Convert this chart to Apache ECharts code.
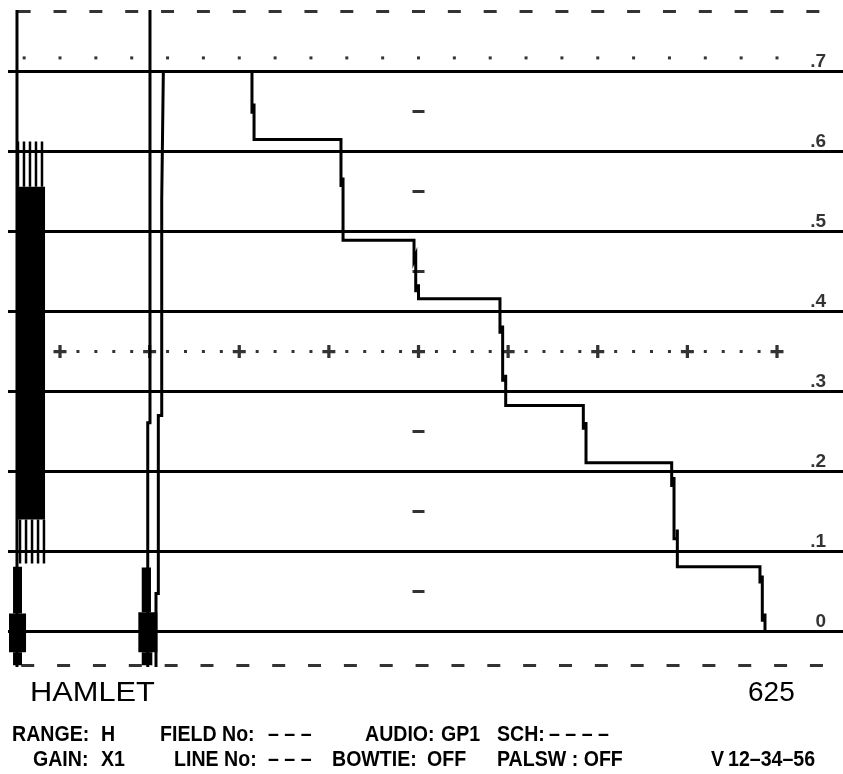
<!DOCTYPE html>
<html><head><meta charset="utf-8">
<script src="https://cdn.jsdelivr.net/npm/echarts@6/dist/echarts.min.js"></script>
<style>html,body{margin:0;padding:0;background:#fff}#c{width:843px;height:774px}</style>
</head><body><div id="c"></div>
<script>
// x: tenths of a graticule division (the "+" marks sit at 0,10,...,80); y: volts
const levels      = [0, 0.1, 0.2, 0.3, 0.4, 0.5, 0.6, 0.7];
const levelLabels = ['0', '.1', '.2', '.3', '.4', '.5', '.6', '.7'];
const crossX   = [0, 10, 20, 30, 40, 50, 60, 70, 80];
const fineDotX = [2,4,6,8, 12,14,16,18, 22,24,26,28, 32,34,36,38, 42,44,46,48, 52,54,56,58, 62,64,66,68, 72,74,76,78];
const topDotX  = [-4,0,4,8,12,16,20,24,28,32,36,40,44,48,52,56,60,64,68,72,76,80];
const topDashX = [-4,0,4,8,12,16,20,24,28,32,36,40,44,48,52,56,60,64,68,72,76,80,84];
const botDashX = [-3.6,0.4,4.4,8.4,12.4,16.4,20.4,24.4,28.4,32.4,36.4,40.4,44.4,48.4,52.4,56.4,60.4,64.4,68.4,72.4,76.4,80.4,84.4];
const minorTickY = [0.05, 0.15, 0.25, 0.45, 0.55, 0.65];
const centreX = 40;
const dottedY = 0.35;
const topDotY = 0.717;

// colour-bar staircase (white .. black) including the rise out of sync
const mainTrace = [
  [10.71,-0.3],[10.71,0.0475],[10.97,0.0475],[10.97,0.27],[11.35,0.27],[11.35,0.54],[11.53,0.54],[11.53,0.70],
  [21.42,0.70],[21.42,0.649],[21.65,0.649],[21.65,0.66],[21.65,0.615],
  [31.35,0.615],[31.35,0.5575],[31.58,0.5575],[31.58,0.5675],[31.58,0.489],
  [39.50,0.489],[39.50,0.464],[39.69,0.464],[39.69,0.47],[39.69,0.426],[40.0,0.426],[40.0,0.434],[40.0,0.416],
  [49.09,0.416],[49.09,0.374],[49.39,0.374],[49.39,0.3825],[49.39,0.314],[49.73,0.314],[49.73,0.321],[49.73,0.2825],
  [58.39,0.2825],[58.39,0.254],[58.69,0.254],[58.69,0.262],[58.69,0.211],
  [68.25,0.211],[68.25,0.1825],[68.51,0.1825],[68.51,0.193],[68.51,0.116],[68.88,0.116],[68.88,0.1275],[68.88,0.081],
  [78.10,0.081],[78.10,0.062],[78.36,0.062],[78.36,0.07],[78.36,0.014],[78.66,0.014],[78.66,0.0225],[78.66,0],
  [87.4,0]
];
const syncEdge2 = [[10.04,0.9],[10.04,0.261],[9.79,0.261],[9.79,-0.3]];
const syncEdge1 = [[-4.80,0.9],[-4.80,-0.3]];
// filled blocks: [x0, x1, yTop, yBottom]
const blocks = [
  [-4.83,-1.67,0.556,0.14],
  [-5.24,-4.24,0.081,0.0225],[-5.69,-3.79,0.0225,-0.026],[-5.24,-4.24,-0.026,-0.3],
  [9.12,10.15,0.08,0.024],[8.74,10.86,0.024,-0.026],[9.12,10.30,-0.026,-0.3]
];
// burst cycles: [x, yTop, yBottom]
const burstLines = [
  [-4.69,0.6125,0.556],[-4.02,0.6125,0.556],[-3.35,0.6125,0.556],[-2.68,0.6125,0.556],[-2.01,0.6125,0.556],
  [-4.46,0.14,0.085],[-3.79,0.14,0.085],[-3.12,0.14,0.085],[-2.45,0.14,0.085],[-1.79,0.14,0.085]
];
const X_MIN = -6.695, X_MAX = 87.364, Y_MIN = -0.0425, Y_MAX = 0.775;
const GRAT_START = -5.80, LABEL_X = 85.47;

const chart = echarts.init(document.getElementById('c'), null, {renderer: 'canvas'});
const K = '#000';
const traceW = 3, gratW = 3;

const lineSeries = (data, z) => ({
  type: 'line', data, showSymbol: false, symbol: 'none', animation: false, z: z || 5,
  lineStyle: {color: K, width: traceW, cap: 'butt', join: 'miter'}, clip: true, silent: true
});

const plusPath = 'path://M4.5,0h3v4.5h4.5v3h-4.5v4.5h-3v-4.5h-4.5v-3h4.5z';
const sans = '"Liberation Sans",Arial,sans-serif';

const option = {
  animation: false,
  backgroundColor: '#fff',
  grid: {left: 0, right: 0, top: 11.5, height: 654},
  xAxis: {type: 'value', min: X_MIN, max: X_MAX, show: false},
  yAxis: {type: 'value', min: Y_MIN, max: Y_MAX, show: false},
  series: [
    {
      type: 'line', data: [], silent: true, animation: false,
      markLine: {
        silent: true, animation: false, symbol: 'none',
        lineStyle: {color: K, width: gratW, type: 'solid'},
        label: {show: false},
        data: levels.map(v => [{coord: [GRAT_START, v]}, {coord: [X_MAX, v]}])
      }
    },
    {
      type: 'scatter', symbolSize: 0, silent: true, animation: false,
      data: levels.map((v, i) => ({value: [LABEL_X, v], name: levelLabels[i]})),
      label: {show: true, position: 'top', align: 'right', distance: 0, formatter: '{b}',
        color: K, fontSize: 19, fontWeight: 'bold', fontFamily: sans}
    },
    {type: 'scatter', symbol: 'rect', symbolSize: [13, 3], itemStyle: {color: K}, silent: true, animation: false, clip: false,
      data: topDashX.map(x => [x, Y_MAX]).concat(botDashX.map(x => [x, Y_MIN]))},
    {type: 'scatter', symbol: 'rect', symbolSize: [3, 3], itemStyle: {color: K}, silent: true, animation: false,
      data: topDotX.map(x => [x, topDotY]).concat(fineDotX.map(x => [x, dottedY]))},
    {type: 'scatter', symbol: plusPath, symbolSize: 13, itemStyle: {color: K}, silent: true, animation: false,
      data: crossX.map(x => [x, dottedY])},
    {type: 'scatter', symbol: 'rect', symbolSize: [12, 3], itemStyle: {color: K}, silent: true, animation: false,
      data: minorTickY.map(y => [centreX, y])},
    lineSeries(mainTrace, 6),
    lineSeries(syncEdge2, 6),
    lineSeries(syncEdge1, 6),
    {
      type: 'custom', clip: true, silent: true, animation: false, z: 6,
      data: blocks,
      renderItem: (params, api) => {
        const a = api.coord([api.value(0), api.value(2)]);
        const b = api.coord([api.value(1), api.value(3)]);
        const r = echarts.graphic.clipRectByRect({x: a[0], y: a[1], width: b[0]-a[0], height: b[1]-a[1]}, params.coordSys);
        return r && {type: 'rect', shape: r, style: {fill: K}};
      }
    },
    {
      type: 'custom', clip: true, silent: true, animation: false, z: 6,
      data: burstLines,
      renderItem: (params, api) => {
        const a = api.coord([api.value(0), api.value(1)]);
        const b = api.coord([api.value(0), api.value(2)]);
        return {type: 'line', shape: {x1: a[0], y1: a[1], x2: b[0], y2: b[1]}, style: {stroke: K, lineWidth: 2.5}};
      }
    }
  ],
  graphic: (function () {
    const big = [
      {t: 'HAMLET', x: 30, y: 693, s: 1.1},
      {t: '625', x: 748, y: 693, s: 1.0}
    ].map(o => ({type: 'text', x: o.x, y: o.y, scaleX: o.s, silent: true,
      style: {text: o.t, fill: K, font: '28px ' + sans, verticalAlign: 'middle'}}));
    const rows = [
      {t: 'RANGE:', x: 12, y: 735}, {t: 'H', x: 101, y: 735}, {t: 'FIELD No:', x: 160, y: 735}, {t: '– – –', x: 268, y: 735},
      {t: 'AUDIO:', x: 365, y: 735}, {t: 'GP1', x: 441, y: 735}, {t: 'SCH:', x: 497, y: 735}, {t: '– – – –', x: 549, y: 735},
      {t: 'GAIN:', x: 33, y: 760}, {t: 'X1', x: 101, y: 760}, {t: 'LINE No:', x: 174, y: 760}, {t: '– – –', x: 268, y: 760},
      {t: 'BOWTIE:', x: 332, y: 760}, {t: 'OFF', x: 427, y: 760}, {t: 'PALSW : OFF', x: 497, y: 760},
      {t: 'V', x: 711, y: 760}, {t: '12–34–56', x: 728, y: 760}
    ].map(o => ({type: 'text', x: o.x, y: o.y, scaleX: 0.89, silent: true,
      style: {text: o.t, fill: K, font: 'bold 22px ' + sans, verticalAlign: 'middle'}}));
    return big.concat(rows);
  })()
};
chart.setOption(option);
</script>
</body></html>
